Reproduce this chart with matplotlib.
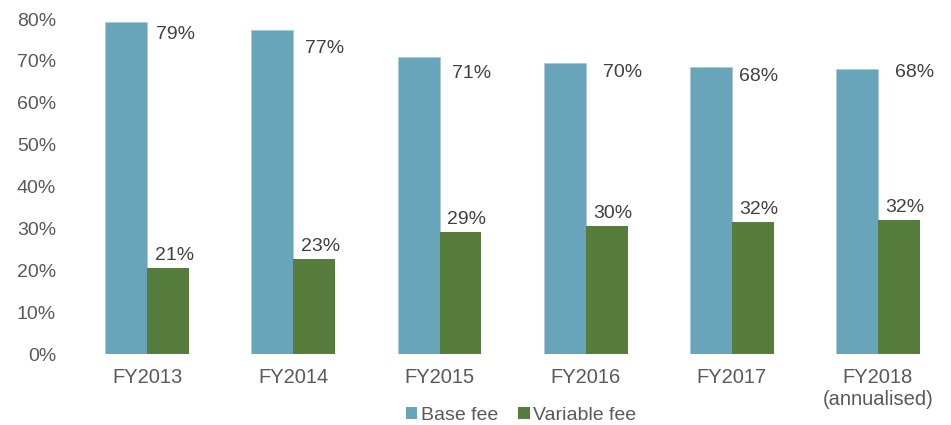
import numpy as np
import matplotlib
matplotlib.use('Agg')
import matplotlib.pyplot as plt
from matplotlib.patches import Patch

plt.rcParams['font.family'] = ['Liberation Sans', 'DejaVu Sans']

categories = ['FY2013', 'FY2014', 'FY2015', 'FY2016', 'FY2017', 'FY2018\n(annualised)']
base_fee = [79.4, 77.3, 70.9, 69.5, 68.5, 68.0]
variable_fee = [20.6, 22.7, 29.1, 30.5, 31.5, 32.0]
base_labels = ['79%', '77%', '71%', '70%', '68%', '68%']
variable_labels = ['21%', '23%', '29%', '30%', '32%', '32%']

# label nudges (as placed in the original)
base_dy = [-3.0, -4.3, -3.8, -2.2, -2.2, -0.7]
base_dx = [0.19, 0.21, 0.22, 0.25, 0.18, 0.25]

blue = '#68A4BA'
green = '#567D3B'
grey = '#595959'

fig = plt.figure(figsize=(9.51, 4.25), dpi=100)
ax = fig.add_axes([0.078, 0.167, 0.922, 0.788])

x = np.arange(len(categories))
w = 0.287
ax.bar(x - w / 2, base_fee, w, color=blue, edgecolor='#A9CCD8', linewidth=0.6)
ax.bar(x + w / 2, variable_fee, w, color=green, linewidth=0)

for i in range(len(categories)):
    ax.text(x[i] + base_dx[i], base_fee[i] + base_dy[i], base_labels[i],
            ha='center', va='center', fontsize=14, color='#404040')
    ax.text(x[i] + w / 2 + 0.04, variable_fee[i] + 1.0, variable_labels[i],
            ha='center', va='bottom', fontsize=14, color='#404040')

ax.set_xlim(-0.5, len(categories) - 0.5)
ax.set_ylim(0, 80)
ax.set_yticks(np.arange(0, 81, 10))
ax.set_yticklabels([f'{v}%' for v in range(0, 81, 10)])
ax.set_xticks(x)
ax.set_xticklabels(categories)
ax.tick_params(axis='y', length=0, pad=13, labelsize=14, labelcolor=grey)
ax.tick_params(axis='x', length=0, pad=10, labelsize=14.5, labelcolor=grey)
for s in ax.spines.values():
    s.set_visible(False)

handles = [Patch(facecolor=blue, label='Base fee'), Patch(facecolor=green, label='Variable fee')]
fig.legend(handles=handles, loc='center', bbox_to_anchor=(0.548, 0.023), ncol=2,
           frameon=False, fontsize=14, handlelength=0.6, handleheight=0.6,
           handletextpad=0.2, columnspacing=1.0, labelcolor=grey)

fig.savefig('out.png', dpi=100)
